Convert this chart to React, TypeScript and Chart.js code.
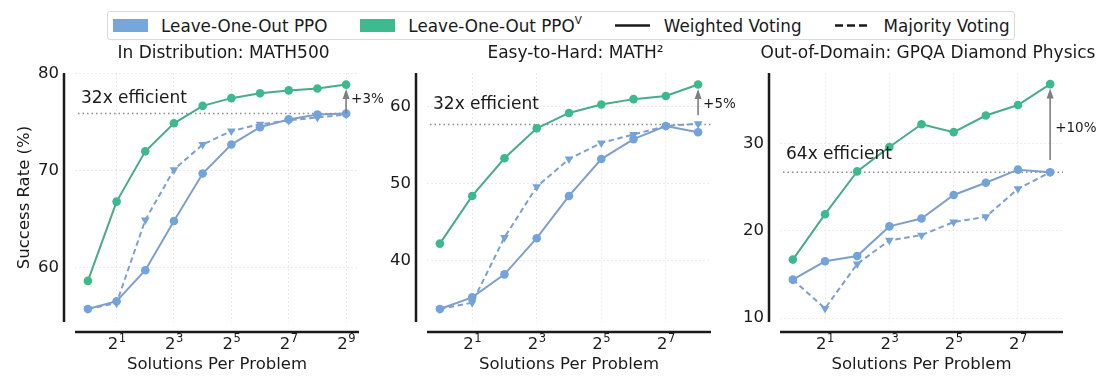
import React, { useEffect, useRef } from 'react';
import { Chart, registerables } from 'chart.js';

Chart.register(...registerables);

// ---------- data ----------
const solutionsMath500 = [1, 2, 4, 8, 16, 32, 64, 128, 256, 512];
const solutionsMath2 = [1, 2, 4, 8, 16, 32, 64, 128, 256];
const solutionsGpqa = [1, 2, 4, 8, 16, 32, 64, 128, 256];

const math500PPOvWeighted = [58.6, 66.8, 72.0, 74.9, 76.7, 77.5, 78.0, 78.3, 78.5, 78.9];
const math500PPOWeighted = [55.7, 56.5, 59.7, 64.8, 69.7, 72.7, 74.5, 75.3, 75.8, 75.9];
const math500PPOMajority = [55.7, 56.3, 64.9, 70.1, 72.7, 74.1, 74.8, 75.2, 75.5, 75.8];

const math2PPOvWeighted = [42.2, 48.4, 53.3, 57.2, 59.2, 60.3, 61.0, 61.4, 62.9];
const math2PPOWeighted = [33.7, 35.2, 38.2, 42.9, 48.4, 53.2, 55.8, 57.5, 56.7];
const math2PPOMajority = [33.7, 34.5, 43.0, 49.6, 53.2, 55.3, 56.4, 57.5, 57.8];

const gpqaPPOvWeighted = [16.7, 21.9, 26.8, 29.6, 32.2, 31.3, 33.2, 34.4, 36.8];
const gpqaPPOWeighted = [14.4, 16.5, 17.1, 20.5, 21.4, 24.1, 25.5, 27.0, 26.7];
const gpqaPPOMajority = [14.4, 11.1, 16.2, 18.9, 19.5, 21.0, 21.6, 24.8, 26.7];

const panelTitles = ['In Distribution: MATH500', 'Easy-to-Hard: MATH\u00B2', 'Out-of-Domain: GPQA Diamond Physics'];
const xTickValuesMath500 = [2, 8, 32, 128, 512];
const xTickExponentsMath500 = ['1', '3', '5', '7', '9'];
const xTickValuesOther = [2, 8, 32, 128];
const xTickExponentsOther = ['1', '3', '5', '7'];
const yTicksMath500 = [60, 70, 80];
const yTicksMath2 = [40, 50, 60];
const yTicksGpqa = [10, 20, 30];

const referenceLevels = [75.9, 57.7, 26.7];
const efficiencyTexts = ['32x efficient', '32x efficient', '64x efficient'];
const efficiencyTextLevels = [77.5, 60.3, 28.7];
const gainTexts = ['+3%', '+5%', '+10%'];
const arrowStartLevels = [75.9, 58.9, 28.1];

// ---------- style ----------
const FONT = '"DejaVu Sans", "Noto Sans", sans-serif';
const TEXT = '#1a1a1a';
const GREEN_MARK = '#3dba8c';
const GREEN_LINE = '#47ac87';
const BLUE_MARK = '#72a3da';
const BLUE_LINE = '#7f9fcb';
const TICK_SIZE = 16.5;

type Panel = {
  key: string;
  title: string;
  left: number;
  width: number;
  yWidth: number;
  padRight: number;
  solutions: number[];
  green: number[];
  blueW: number[];
  blueM: number[];
  xMin: number;
  xMax: number;
  yMin: number;
  yMax: number;
  yTicks: number[];
  xTickValues: number[];
  xTickExps: string[];
  ref: number;
  refEndAtLast: boolean;
  effText: string;
  effLevel: number;
  gainText: string;
  arrowFrom: number;
  showYTitle: boolean;
};

const panels: Panel[] = [
  {
    key: 'p1', title: panelTitles[0], left: 0, width: 400, yWidth: 75, padRight: 41,
    solutions: solutionsMath500, green: math500PPOvWeighted, blueW: math500PPOWeighted, blueM: math500PPOMajority,
    xMin: -0.45, xMax: 9.45, yMin: 54.35, yMax: 80.1, yTicks: yTicksMath500,
    xTickValues: xTickValuesMath500, xTickExps: xTickExponentsMath500,
    ref: referenceLevels[0], refEndAtLast: true, effText: efficiencyTexts[0], effLevel: efficiencyTextLevels[0],
    gainText: gainTexts[0], arrowFrom: arrowStartLevels[0], showYTitle: true,
  },
  {
    key: 'p2', title: panelTitles[1], left: 370, width: 390, yWidth: 57, padRight: 49,
    solutions: solutionsMath2, green: math2PPOvWeighted, blueW: math2PPOWeighted, blueM: math2PPOMajority,
    xMin: -0.4, xMax: 8.4, yMin: 32.0, yMax: 64.4, yTicks: yTicksMath2,
    xTickValues: xTickValuesOther, xTickExps: xTickExponentsOther,
    ref: referenceLevels[1], refEndAtLast: false, effText: efficiencyTexts[1], effLevel: efficiencyTextLevels[1],
    gainText: gainTexts[1], arrowFrom: arrowStartLevels[1], showYTitle: false,
  },
  {
    key: 'p3', title: panelTitles[2], left: 725, width: 390, yWidth: 55, padRight: 52,
    solutions: solutionsGpqa, green: gpqaPPOvWeighted, blueW: gpqaPPOWeighted, blueM: gpqaPPOMajority,
    xMin: -0.4, xMax: 8.4, yMin: 9.55, yMax: 38.07, yTicks: yTicksGpqa,
    xTickValues: xTickValuesOther, xTickExps: xTickExponentsOther,
    ref: referenceLevels[2], refEndAtLast: false, effText: efficiencyTexts[2], effLevel: efficiencyTextLevels[2],
    gainText: gainTexts[2], arrowFrom: arrowStartLevels[2], showYTitle: false,
  },
];

const CANVAS_H = 385;

function makeDecor(p: Panel) {
  return {
    id: 'decor_' + p.key,
    beforeDatasetsDraw(chart: any) {
      const { ctx, chartArea: a, scales } = chart;
      const y = scales.y;
      const x = scales.x;
      const yy = y.getPixelForValue(p.ref);
      const x0 = a.left + 3;
      const x1 = p.refEndAtLast ? x.getPixelForValue(Math.log2(p.solutions[p.solutions.length - 1])) : a.right;
      ctx.save();
      ctx.strokeStyle = '#8c8c8c';
      ctx.lineWidth = 1.5;
      ctx.setLineDash([1.5, 3]);
      ctx.beginPath();
      ctx.moveTo(x0, yy);
      ctx.lineTo(x1, yy);
      ctx.stroke();
      ctx.restore();
    },
    afterDatasetsDraw(chart: any) {
      const { ctx, chartArea: a, scales } = chart;
      const y = scales.y;
      const x = scales.x;
      const lastIdx = p.solutions.length - 1;
      const ax = x.getPixelForValue(Math.log2(p.solutions[lastIdx]));
      const greenLast = p.green[lastIdx];
      const tipY = y.getPixelForValue(greenLast) + 4.5;
      const botY = y.getPixelForValue(p.arrowFrom);
      ctx.save();
      ctx.strokeStyle = '#7f7f7f';
      ctx.fillStyle = '#7f7f7f';
      ctx.lineWidth = 1.6;
      ctx.beginPath();
      ctx.moveTo(ax, botY);
      ctx.lineTo(ax, tipY + 8);
      ctx.stroke();
      ctx.beginPath();
      ctx.moveTo(ax, tipY);
      ctx.lineTo(ax - 3.5, tipY + 10);
      ctx.lineTo(ax + 3.5, tipY + 10);
      ctx.closePath();
      ctx.fill();
      ctx.fillStyle = TEXT;
      ctx.font = '13.5px ' + FONT;
      ctx.textAlign = 'left';
      ctx.textBaseline = 'middle';
      ctx.fillText(p.gainText, ax + 5, y.getPixelForValue((p.ref + greenLast) / 2));
      ctx.font = '17px ' + FONT;
      ctx.fillText(p.effText, a.left + 6, y.getPixelForValue(p.effLevel));
      ctx.restore();
    },
    afterDraw(chart: any) {
      const { ctx, chartArea: a, scales } = chart;
      ctx.save();
      ctx.strokeStyle = '#1a1a1a';
      ctx.lineWidth = 2.5;
      ctx.beginPath();
      ctx.moveTo(a.left - 11, a.top);
      ctx.lineTo(a.left - 11, a.bottom);
      ctx.moveTo(a.left, a.bottom + 10);
      ctx.lineTo(a.right, a.bottom + 10);
      ctx.stroke();
      ctx.fillStyle = TEXT;
      ctx.font = '17px ' + FONT;
      ctx.textAlign = 'center';
      ctx.textBaseline = 'middle';
      ctx.fillText(p.title, (a.left + a.right) / 2 + 6.5, 54);
      // x tick labels: base 2 with raised exponent (mathtext style)
      const x = scales.x;
      const baseY = a.bottom + 27;
      p.xTickValues.forEach((v, i) => {
        const cx = x.getPixelForValue(Math.log2(v));
        ctx.font = TICK_SIZE + 'px ' + FONT;
        const wb = ctx.measureText('2').width;
        ctx.font = TICK_SIZE * 0.7 + 'px ' + FONT;
        const we = ctx.measureText(p.xTickExps[i]).width;
        const start = cx - (wb + we) / 2;
        ctx.textAlign = 'left';
        ctx.textBaseline = 'alphabetic';
        ctx.font = TICK_SIZE + 'px ' + FONT;
        ctx.fillText('2', start, baseY);
        ctx.font = TICK_SIZE * 0.7 + 'px ' + FONT;
        ctx.fillText(p.xTickExps[i], start + wb + 0.5, baseY - 7);
      });
      ctx.restore();
    },
  };
}

function PanelChart({ p }: { p: Panel }) {
  const ref = useRef<HTMLCanvasElement | null>(null);
  useEffect(() => {
    if (!ref.current) return;
    const toPts = (vals: number[]) => p.solutions.map((n, i) => ({ x: Math.log2(n), y: vals[i] }));
    const tickFont = { family: FONT, size: TICK_SIZE };
    const chart = new Chart(ref.current, {
      type: 'line',
      data: {
        datasets: [
          {
            label: 'Leave-One-Out PPO (Majority Voting)',
            data: toPts(p.blueM),
            borderColor: BLUE_LINE,
            backgroundColor: BLUE_MARK,
            borderWidth: 2,
            borderDash: [5.5, 3.5],
            pointStyle: 'triangle',
            pointRotation: 180,
            pointRadius: 5,
            pointBorderWidth: 0,
            pointBackgroundColor: BLUE_MARK,
            tension: 0,
          },
          {
            label: 'Leave-One-Out PPO (Weighted Voting)',
            data: toPts(p.blueW),
            borderColor: BLUE_LINE,
            backgroundColor: BLUE_MARK,
            borderWidth: 2,
            pointStyle: 'circle',
            pointRadius: 4.3,
            pointBorderWidth: 0,
            pointBackgroundColor: BLUE_MARK,
            tension: 0,
          },
          {
            label: 'Leave-One-Out PPO^V (Weighted Voting)',
            data: toPts(p.green),
            borderColor: GREEN_LINE,
            backgroundColor: GREEN_MARK,
            borderWidth: 2,
            pointStyle: 'circle',
            pointRadius: 4.3,
            pointBorderWidth: 0,
            pointBackgroundColor: GREEN_MARK,
            tension: 0,
          },
        ],
      },
      options: {
        animation: false,
        responsive: false,
        devicePixelRatio: 1,
        layout: { padding: { left: 0, right: p.padRight, top: 73, bottom: 0 } },
        plugins: {
          legend: { display: false },
          title: { display: false },
          tooltip: { enabled: false },
        },
        events: [],
        scales: {
          x: {
            type: 'linear',
            min: p.xMin,
            max: p.xMax,
            afterBuildTicks: (s: any) => {
              s.ticks = p.xTickValues.map((v) => ({ value: Math.log2(v) }));
            },
            afterFit: (s: any) => {
              s.height = 63;
            },
            ticks: {
              autoSkip: false,
              maxRotation: 0,
              padding: 12,
              color: 'rgba(0,0,0,0)',
              font: tickFont,
              callback: (_v: any, i: number) => '2' + p.xTickExps[i],
            },
            grid: { color: '#e6e6e6', lineWidth: 0.8, drawTicks: false },
            border: { display: false, dash: [2, 2] },
            title: {
              display: true,
              text: 'Solutions Per Problem',
              color: TEXT,
              font: { family: FONT, size: 16.5 },
              padding: { top: 0, bottom: 10 },
            },
          },
          y: {
            type: 'linear',
            min: p.yMin,
            max: p.yMax,
            afterBuildTicks: (s: any) => {
              s.ticks = p.yTicks.map((v) => ({ value: v }));
            },
            afterFit: (s: any) => {
              s.width = p.yWidth;
            },
            ticks: {
              padding: 16,
              color: TEXT,
              font: tickFont,
              callback: (v: any) => String(v),
            },
            grid: { color: '#e6e6e6', lineWidth: 0.8, drawTicks: false },
            border: { display: false, dash: [2, 2] },
            title: {
              display: p.showYTitle,
              text: 'Success Rate (%)',
              color: TEXT,
              font: { family: FONT, size: 16.5 },
              padding: { top: 15, bottom: 0 },
            },
          },
        },
      },
      plugins: [makeDecor(p)],
    } as any);
    return () => chart.destroy();
  }, [p]);
  return (
    <canvas
      ref={ref}
      width={p.width}
      height={CANVAS_H}
      style={{ position: 'absolute', left: p.left, top: 0, width: p.width, height: CANVAS_H }}
    />
  );
}

function Legend() {
  const item: React.CSSProperties = { display: 'flex', alignItems: 'center', marginRight: 33 };
  const sw: React.CSSProperties = { width: 35, height: 13, marginRight: 13 };
  return (
    <div
      style={{
        position: 'absolute', left: 107, top: 11, width: 908, height: 29, boxSizing: 'border-box',
        border: '1px solid #d9d9d9', borderRadius: 3, display: 'flex', alignItems: 'center',
        paddingLeft: 5, font: '16.8px ' + FONT, color: TEXT, whiteSpace: 'nowrap', background: '#fff',
      }}
    >
      <div style={item}>
        <div style={{ ...sw, background: '#75a6dc' }} />
        <span>Leave-One-Out PPO</span>
      </div>
      <div style={item}>
        <div style={{ ...sw, background: '#3dba8f' }} />
        <span>
          Leave-One-Out PPO<sup style={{ fontSize: '0.62em', verticalAlign: '0.75em', lineHeight: 0 }}>V</sup>
        </span>
      </div>
      <div style={item}>
        <svg width={35} height={13} style={{ marginRight: 14 }}>
          <line x1={0} y1={6.5} x2={35} y2={6.5} stroke="#1a1a1a" strokeWidth={2.3} />
        </svg>
        <span>Weighted Voting</span>
      </div>
      <div style={{ ...item, marginRight: 0 }}>
        <svg width={35} height={13} style={{ marginRight: 14 }}>
          <line x1={0} y1={6.5} x2={35} y2={6.5} stroke="#1a1a1a" strokeWidth={2.3} strokeDasharray="8 4" />
        </svg>
        <span>Majority Voting</span>
      </div>
    </div>
  );
}

export default function App() {
  return (
    <div style={{ position: 'absolute', left: 0, top: 0, width: 1115, height: 385, background: '#fff', overflow: 'hidden' }}>
      {panels.map((p) => (
        <PanelChart key={p.key} p={p} />
      ))}
      <Legend />
    </div>
  );
}
